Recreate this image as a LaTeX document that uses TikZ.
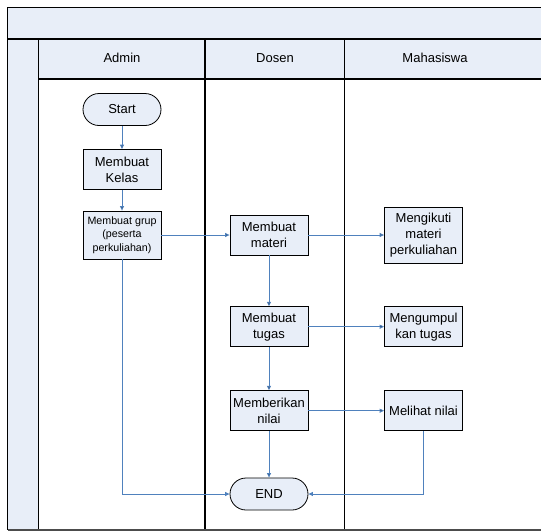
\documentclass[tikz,border=0pt]{standalone}
\usepackage{fontspec}
\setmainfont{Liberation Sans}
\usetikzlibrary{arrows.meta,positioning}
\definecolor{lanefill}{RGB}{232,238,248}
\definecolor{flowblue}{RGB}{79,129,189}

\begin{document}
\begin{tikzpicture}[x=1pt,y=-1pt,>={Triangle[length=4.5pt,width=4pt]},
		node distance=84pt,font=\fontsize{13}{16}\selectfont]
		\tikzstyle{task}=[draw,fill=lanefill,line width=0.8pt,minimum width=78pt,
		minimum height=40pt,inner sep=1pt,align=center]
		\tikzstyle{terminal}=[task,minimum height=32pt,rounded corners=16pt]
		\tikzstyle{flow}=[->,draw=flowblue,line width=0.9pt]
		\tikzstyle{frame}=[line width=1.2pt]
		
		\useasboundingbox (0,0) rectangle (541,531);
		% pool and lanes
		\fill[lanefill] (7.5,7.5) rectangle (541,39);
		\fill[lanefill] (7.5,39) rectangle (38.5,530);
		\fill[lanefill] (38.5,39) rectangle (541,79);
		\draw[frame] (541,7.5) -- (7.5,7.5) -- (7.5,530);
		\draw[line width=2pt] (7.5,39) -- (541,39);
		\draw[frame] (38.5,79) -- (541,79);
		\foreach \x in {38.5,205,344.5}
		\draw[frame] (\x,39) -- (\x,530);
		\draw[frame,black!70] (7.5,530) -- (541,530);
		
		\node (admin) at (122,58) {Admin};
		\node (dosen) at (275,58) {Dosen};
		\node (mhs)   at (435,58) {Mahasiswa};
		
		\node[terminal] (A) at (122,109.5) {Start};
		\node[task]     (B) at (122,169.5) {Membuat\\Kelas};
		\node[task,minimum height=48pt,font=\fontsize{10.7}{13.3}\selectfont]
		(C) at (122,235) {Membuat grup\\(peserta\\perkuliahan)};
		\node[task]     (D) at (269,235) {Membuat\\materi};
		\node[task,minimum height=56pt] (E) [right of=D,node distance=154.5pt] {Mengikuti\\materi\\perkuliahan};
		\node[task]     (F) [below of=D,node distance=91.7pt] {Membuat\\tugas};
		\node[task]     (G) [right of=F,node distance=154.5pt] {Mengumpul\\kan tugas};
		\node[task]     (H) [below of=F] {Memberikan\\nilai};
		\node[task]     (J) [right of=H,node distance=154.5pt] {Melihat nilai};
		\node[terminal] (K) [below of=H,node distance=83.3pt] {END};
		
		\path[flow] (A) edge (B);
		\path[flow] (B) edge (C);
		\path[flow] (C) edge (D);
		\path[flow] (D) edge (E);
		\path[flow] (D) edge (F);
		\path[flow] (F) edge (G);
		\path[flow] (F) edge (H);
		\path[flow] (H) edge (J);
		\path[flow] (H) edge (K);
		\draw[flow] (C) |- (K);
		\draw[flow] (J) |- (K);
		\end{tikzpicture}
\end{document}
